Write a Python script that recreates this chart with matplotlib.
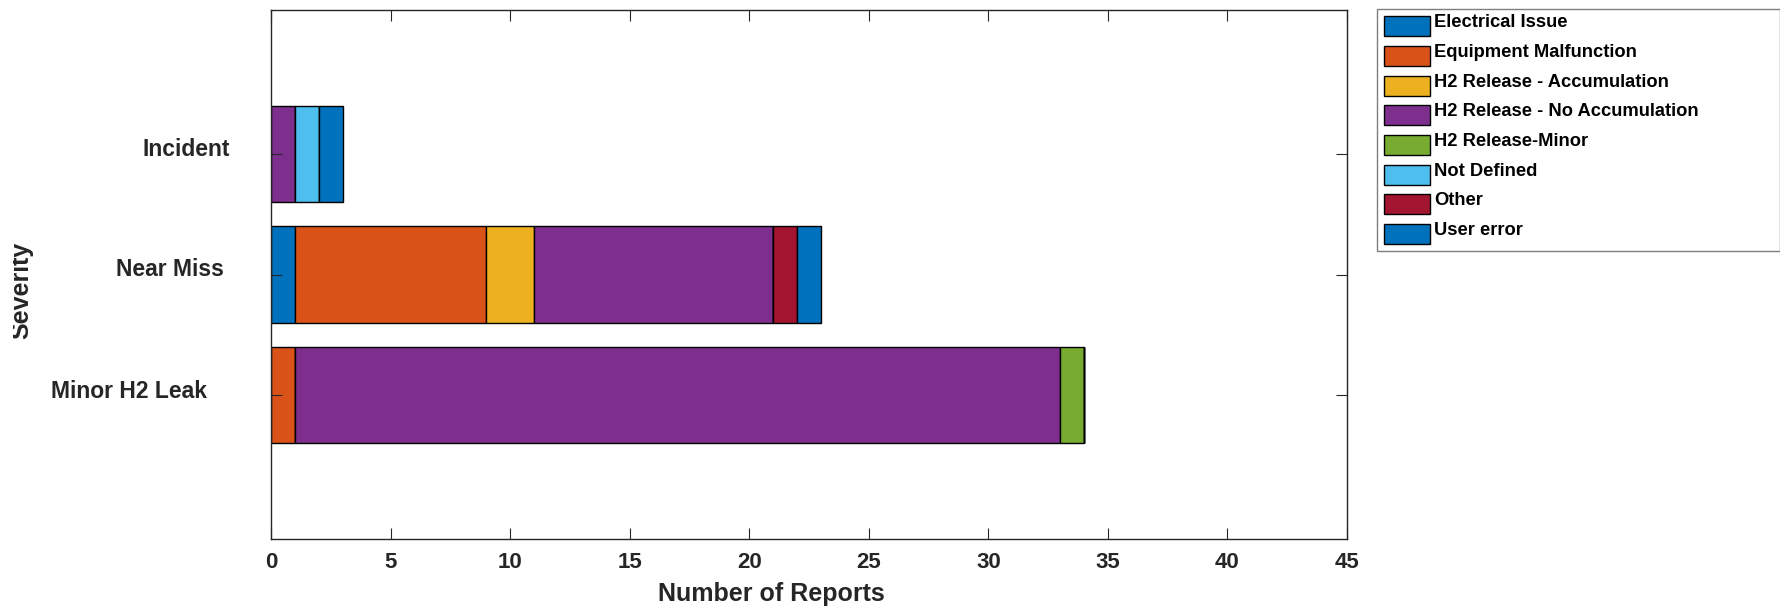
import matplotlib
matplotlib.use('Agg')
import matplotlib.pyplot as plt
from matplotlib.transforms import ScaledTranslation, Bbox, TransformedBbox

plt.rcParams['font.family'] = ['Liberation Sans', 'DejaVu Sans']
plt.rcParams['font.weight'] = 'bold'
plt.rcParams['axes.labelweight'] = 'bold'

# categories bottom to top
categories = ['Minor H2 Leak', 'Near Miss', 'Incident']
causes = ['Electrical Issue', 'Equipment Malfunction', 'H2 Release - Accumulation',
          'H2 Release - No Accumulation', 'H2 Release-Minor', 'Not Defined',
          'Other', 'User error']

electrical = [0, 1, 0]
equipment = [1, 8, 0]
h2_accum = [0, 2, 0]
h2_no_accum = [32, 10, 1]
h2_minor = [1, 0, 0]
not_defined = [0, 0, 1]
other = [0, 1, 0]
user_error = [0, 1, 1]

series = [electrical, equipment, h2_accum, h2_no_accum, h2_minor,
          not_defined, other, user_error]
colors = ['#0072BD', '#D95319', '#EDB120', '#7E2F8E', '#77AC30',
          '#4DBEEE', '#A2142F', '#0072BD']

W, H = 1781, 611
fig = plt.figure(figsize=(W / 100, H / 100), dpi=100)
ax = fig.add_axes([271 / W, (H - 539) / H, 1076 / W, 529 / H])

ypos = [1, 2, 3]
left = [0, 0, 0]
for vals, name, col in zip(series, causes, colors):
    ax.barh(ypos, vals, height=0.8, left=left, color=col, edgecolor='black',
            linewidth=1.0, label=name)
    left = [l + v for l, v in zip(left, vals)]

dark = '#262626'
ax.set_xlim(0, 45)
ax.set_ylim(-0.2, 4.2)
ax.set_xticks(range(0, 46, 5))
ax.set_yticks(ypos)
ax.set_yticklabels(categories)
for sp in ax.spines.values():
    sp.set_color(dark)
    sp.set_linewidth(1.0)
ax.tick_params(direction='in', top=True, right=True, length=8, width=0.8,
               color=dark, labelcolor=dark, labelsize=16)
ax.tick_params(axis='x', pad=9)
ax.tick_params(axis='y', pad=29.5, labelsize=16.5)

# MATLAB-like label offsets (px)
offsets = {'Incident': (0, 7), 'Near Miss': (-6, 7), 'Minor H2 Leak': (-23, 6)}
for lab in ax.get_yticklabels():
    dx, dy = offsets[lab.get_text()]
    lab.set_transform(lab.get_transform() +
                      ScaledTranslation(dx / 100, dy / 100, fig.dpi_scale_trans))

ax.set_xlabel('Number of Reports', fontsize=18, color=dark)
ax.xaxis.set_label_coords((771 - 271) / 1076, -(582.5 - 539) / 529)

ylab = fig.text(33.5 / W, 1 - 290 / H, 'Severity', rotation=90, ha='right',
                va='center', fontsize=18, color=dark)
ylab.set_clip_box(TransformedBbox(Bbox([[13 / W, 0], [1, 1]]), fig.transFigure))
ylab.set_clip_on(True)

leg = ax.legend(loc='upper left', mode='expand',
                bbox_to_anchor=(1377 / W, 0, (1780 - 1377) / W, 1 - 9 / H),
                bbox_transform=fig.transFigure, borderaxespad=0,
                fontsize=13.2, handlelength=2.5, handleheight=1.3,
                labelspacing=0.52, handletextpad=0.23, borderpad=0.4,
                fancybox=False, framealpha=1)
leg.get_frame().set_edgecolor('#7f7f7f')
leg.get_frame().set_linewidth(1.0)
for t in leg.get_texts():
    t.set_color('black')
    t.set_transform(t.get_transform() +
                    ScaledTranslation(0, 5 / 100, fig.dpi_scale_trans))

fig.savefig('out.png', dpi=100)
